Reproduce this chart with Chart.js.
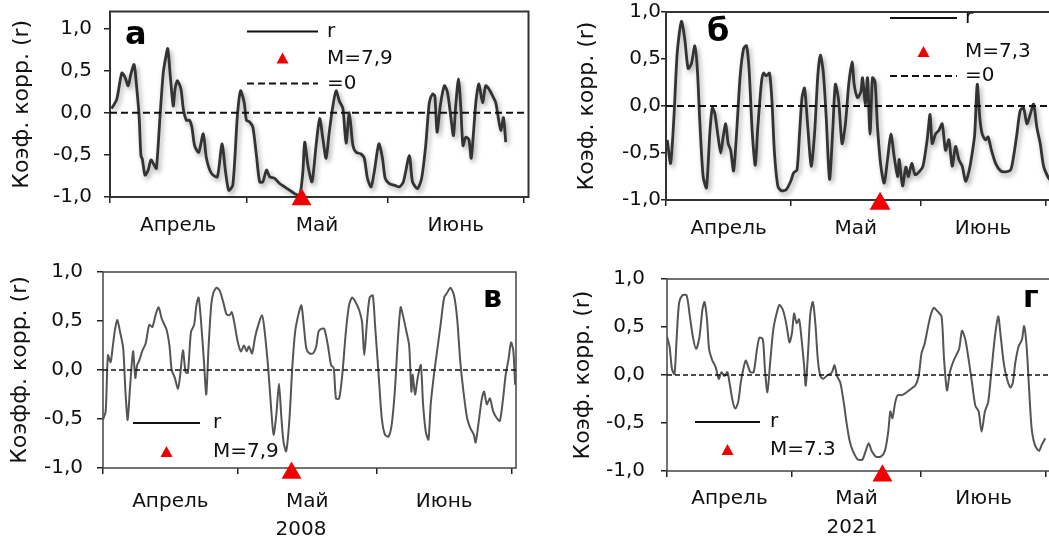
<!DOCTYPE html>
<html>
<head>
<meta charset="utf-8">
<script src="https://cdn.jsdelivr.net/npm/chart.js@4.4.0/dist/chart.umd.min.js"></script>
<style>
  html, body { margin: 0; padding: 0; background: #fff; }
  body { position: relative; width: 1049px; height: 541px; overflow: hidden; }
  canvas { position: absolute; }
</style>
</head>
<body>
<canvas id="pa"></canvas>
<canvas id="pb"></canvas>
<canvas id="pv"></canvas>
<canvas id="pg"></canvas>
<script>
const FONT = '"DejaVu Sans", Verdana, sans-serif';
const RED = '#f00000';
const TEXT = '#111';

// axis ticks (days counted from 1 April)
const yTicks = [-1, -0.5, 0, 0.5, 1];
const monthStarts = [0, 30, 61, 91];
const monthMids = [15, 45.5, 76];
const monthNames = ['Апрель', 'Май', 'Июнь'];

// panel а
const aDays = [0.3,0.7,1.5,2.6,3.3,4.0,4.6,5.3,5.9,6.4,6.8,7.1,7.7,8.4,9.0,9.7,10.2,11.0,11.7,12.2,
  12.7,13.2,13.9,14.3,14.8,15.6,16.1,16.8,17.5,18.0,18.6,19.5,20.5,21.2,22.3,23.6,24.6,25.4,26.1,27.0,
  28.0,28.7,29.5,30.0,30.7,31.4,32.2,32.9,33.6,34.4,35.1,36.2,37.3,38.4,39.5,40.6,41.7,42.4,42.8,43.5,
  44.4,45.3,46.1,46.8,47.5,48.2,49.0,49.7,50.4,51.2,51.9,52.6,53.4,54.1,55.2,55.9,56.6,57.4,58.1,59.1,
  59.9,60.5,61.4,62.5,63.6,64.5,65.8,66.5,67.6,68.5,69.4,70.2,70.9,71.4,71.9,72.6,73.5,74.2,74.9,75.5,
  76.0,76.6,77.1,77.6,78.2,78.9,79.4,80.0,80.5,81.1,81.9,82.6,83.3,84.1,84.8,85.3,85.9,86.5,87.0];
const aR = [0.05,0.08,0.16,0.47,0.42,0.32,0.46,0.57,0.28,-0.04,-0.51,-0.55,-0.74,-0.68,-0.56,-0.62,-0.66,-0.04,0.47,0.64,
  0.76,0.47,0.08,0.28,0.38,0.28,0.05,-0.09,-0.09,-0.17,-0.39,-0.47,-0.25,-0.54,-0.72,-0.76,-0.37,-0.70,-0.92,-0.86,
  -0.04,0.26,0.12,-0.09,-0.11,-0.17,-0.51,-0.82,-0.82,-0.68,-0.76,-0.78,-0.84,-0.88,-0.92,-0.96,-0.98,-0.70,-0.35,-0.62,
  -0.82,-0.39,-0.07,-0.31,-0.54,-0.23,0.08,0.26,0.14,0.05,-0.36,0.0,-0.39,-0.47,-0.49,-0.54,-0.78,-0.88,-0.70,-0.37,
  -0.54,-0.78,-0.84,-0.86,-0.88,-0.82,-0.51,-0.82,-0.90,-0.78,-0.39,0.12,0.22,0.20,-0.23,0.08,0.32,0.24,-0.04,-0.27,
  0.08,0.40,0.08,-0.39,-0.29,-0.32,-0.54,-0.17,0.16,0.34,0.12,0.32,0.28,0.20,0.12,-0.04,-0.21,-0.06,-0.35];

// panel б
const bDays = [0.3,1.1,1.9,2.7,3.7,4.5,5.3,6.1,6.9,7.5,8.1,8.9,9.7,10.5,11.1,11.7,12.5,13.1,13.7,14.3,
  14.9,15.5,16.2,17.0,17.8,18.6,19.3,19.9,20.7,21.4,22.0,22.9,23.4,24.0,24.8,25.4,26.0,26.8,27.6,28.8,
  29.9,30.6,31.4,32.0,32.6,33.2,34.0,34.8,35.6,36.4,37.0,37.7,38.4,39.2,40.0,40.6,41.4,42.2,43.0,43.8,
  44.6,45.1,45.9,46.7,47.1,47.8,48.3,48.9,49.5,50.1,50.7,51.5,52.3,53.1,53.9,54.7,55.5,55.9,56.7,57.5,
  58.1,58.9,59.7,60.7,61.6,62.6,63.3,63.8,64.6,65.4,66.2,67.0,67.8,68.6,69.4,70.2,71.0,71.8,72.6,73.4,
  74.0,74.6,75.2,75.8,76.6,77.2,78.0,79.0,80.2,81.4,82.6,83.3,84.1,84.9,85.7,86.5,87.3,88.1,88.9,89.7,
  90.5,91.5,92.3];
const bR = [-0.36,-0.61,-0.12,0.57,0.90,0.71,0.40,0.45,0.64,0.40,-0.16,-0.75,-0.87,-0.29,-0.02,-0.08,-0.33,-0.50,-0.33,-0.19,
  -0.40,-0.47,-0.69,-0.23,0.33,0.61,0.64,0.40,-0.30,-0.63,-0.23,0.26,0.35,0.32,0.35,0.05,-0.50,-0.85,-0.90,-0.89,
  -0.80,-0.71,-0.68,-0.30,0.09,0.19,-0.23,-0.64,-0.30,0.33,0.54,0.36,-0.12,-0.78,-0.23,0.23,0.05,-0.40,-0.19,0.23,
  0.47,0.23,0.09,0.15,0.30,0.02,0.30,-0.30,0.30,0.26,-0.23,-0.64,-0.82,-0.57,-0.30,-0.54,-0.75,-0.57,-0.85,-0.65,
  -0.75,-0.61,-0.73,-0.70,-0.64,-0.36,-0.09,-0.40,-0.30,-0.26,-0.19,-0.47,-0.36,-0.64,-0.43,-0.57,-0.64,-0.80,-0.70,-0.50,
  -0.30,0.23,-0.12,-0.30,-0.36,-0.33,-0.47,-0.61,-0.69,-0.70,-0.68,-0.54,-0.30,-0.05,-0.02,-0.19,-0.09,0.02,-0.23,-0.40,
  -0.64,-0.75,-0.80];

// panel в (2008)
const vDays = [0,0.6,1.1,1.7,2.2,2.7,3.2,3.8,4.5,5.0,5.5,6.0,6.7,7.2,7.6,8.1,8.8,9.5,10.3,11.0,
  11.7,12.4,13.1,14.1,14.8,15.3,16.0,16.7,17.2,17.8,18.4,18.9,19.6,20.3,20.8,21.3,21.8,22.5,23.0,23.5,
  24.1,24.6,25.3,26.0,26.8,27.5,28.2,28.7,29.3,30.0,30.7,31.4,32.0,32.5,33.2,33.9,34.6,35.4,35.9,36.8,
  37.5,38.0,38.6,39.2,39.7,40.2,40.8,41.5,42.2,
  42.8,43.5,44.2,44.8,45.3,46.0,46.8,47.5,48.0,48.6,49.3,50.1,50.8,51.4,51.9,52.6,53.3,54.1,54.8,55.5,
  56.3,57.0,57.7,58.2,58.8,59.4,60.1,60.6,61.4,62.1,62.8,63.6,64.3,65.0,65.7,66.3,66.8,67.6,68.2,68.7,
  69.0,69.5,70.1,70.8,71.3,71.9,72.5,73.0,73.8,74.5,75.2,76.0,76.7,77.4,78.2,78.9,79.6,80.3,81.1,81.8,
  82.6,83.0,83.6,84.4,84.9,85.5,86.2,86.9,87.7,88.4,89.1,89.7,90.3,90.9,91.4,91.8];
const vR = [-0.51,-0.42,0.15,0.08,0.25,0.42,0.51,0.39,0.22,-0.22,-0.51,-0.19,0.19,-0.08,0.05,0.10,0.20,0.27,0.46,0.44,
  0.56,0.64,0.52,0.42,0.25,0.0,-0.08,-0.19,-0.05,0.20,-0.02,-0.03,0.39,0.46,0.66,0.74,0.52,0.08,-0.25,0.22,
  0.66,0.79,0.84,0.81,0.69,0.57,0.56,0.59,0.47,0.29,0.19,0.25,0.19,0.24,0.17,0.34,0.46,0.56,0.44,0.02,
  -0.42,-0.66,-0.46,-0.14,-0.46,-0.73,-0.83,-0.52,0.05,
  0.39,0.56,0.66,0.42,0.22,0.17,0.17,0.24,0.39,0.42,0.42,0.25,0.05,0.02,-0.29,-0.29,-0.05,0.39,0.66,0.74,
  0.69,0.62,0.49,0.15,0.49,0.74,0.76,0.46,-0.05,-0.49,-0.66,-0.68,-0.56,-0.22,0.32,0.64,0.56,0.39,0.25,-0.22,
  -0.05,-0.25,-0.08,0.05,-0.35,-0.63,-0.71,-0.35,-0.02,0.22,0.46,0.74,0.79,0.84,0.76,0.52,0.08,-0.22,-0.49,-0.59,
  -0.66,-0.74,-0.56,-0.29,-0.22,-0.35,-0.29,-0.42,-0.49,-0.52,-0.30,-0.05,0.10,0.28,0.20,-0.15];

// panel г (2021)
const gDays = [0,0.6,1.2,1.8,2.3,2.9,3.7,4.7,5.4,6.2,7.0,7.8,8.5,9.0,9.6,10.1,10.9,11.7,12.4,13.1,
  13.8,14.5,15.0,15.8,16.4,17.1,17.7,18.3,18.9,19.4,20.0,20.8,21.6,22.2,23.0,23.5,24.1,24.7,25.5,26.3,
  27.0,27.8,28.6,29.4,30.0,30.5,31.1,31.7,32.3,32.9,33.3,33.9,34.4,35.0,35.6,36.2,36.8,37.5,38.3,39.1,
  39.6,40.2,40.8,41.6,42.4,43.1,43.8,44.6,
  45.8,46.9,47.7,48.4,49.1,50.1,51.3,52.3,53.1,53.6,54.1,54.8,55.4,56.4,57.5,58.7,59.6,60.4,61.1,61.8,
  62.5,63.2,64.0,65.0,65.9,66.5,67.2,67.9,68.9,70.1,70.8,71.6,72.4,73.2,74.0,74.8,75.5,76.3,77.1,77.9,
  78.7,79.5,80.0,80.8,81.6,82.4,83.0,83.6,84.4,85.2,85.7,86.3,86.9,87.5,88.3,89.3,89.9,90.8];
const gR = [0.40,0.30,0.06,0.01,0.37,0.75,0.83,0.83,0.64,0.40,0.27,0.40,0.68,0.76,0.58,0.27,0.15,0.08,-0.04,0.03,
  -0.01,0.03,-0.08,-0.28,-0.35,-0.28,-0.08,0.06,0.15,0.10,0.03,0.03,0.27,0.39,0.37,0.06,-0.18,0.10,0.47,0.64,
  0.73,0.68,0.54,0.34,0.44,0.64,0.54,0.58,0.37,0.10,-0.11,0.27,0.64,0.76,0.54,0.16,-0.01,-0.04,-0.01,0.01,
  0.03,0.10,-0.01,-0.08,-0.28,-0.50,-0.68,-0.79,
  -0.88,-0.88,-0.79,-0.71,-0.79,-0.85,-0.85,-0.79,-0.59,-0.38,-0.45,-0.28,-0.21,-0.21,-0.18,-0.14,-0.11,-0.01,0.23,0.32,
  0.47,0.61,0.70,0.66,0.61,0.16,-0.16,0.03,0.16,0.27,0.46,0.37,0.16,-0.08,-0.32,-0.38,-0.59,-0.38,-0.28,0.06,
  0.40,0.61,0.44,0.13,-0.04,-0.13,-0.08,0.13,0.30,0.37,0.51,0.30,-0.14,-0.55,-0.73,-0.79,-0.73,-0.66];

// earthquake markers (а, б, в, г)
const quakeDays = [42.1, 51.3, 42.0, 51.7];
const quakeR = [-1.03, -1.04, -1.05, -1.05];
const magnitudes = ['M=7,9', 'M=7,3', 'M=7,9', 'M=7.3'];

const panelDecor = {
  id: 'panelDecor',
  beforeDatasetsDraw(chart, args, o) {
    const {ctx, chartArea: a} = chart;
    ctx.save();
    ctx.strokeStyle = o.boxColor;
    ctx.lineWidth = o.boxWidth;
    ctx.strokeRect(a.left, a.top, a.right - a.left, a.bottom - a.top);
    ctx.restore();
  },
  beforeDatasetDraw(chart, args) {
    if (chart.data.datasets[args.index].shadow) {
      const ctx = chart.ctx;
      ctx.save();
      ctx.shadowColor = 'rgba(0,0,0,0.35)';
      ctx.shadowBlur = 5;
      ctx.shadowOffsetX = 2;
      ctx.shadowOffsetY = 3;
    }
  },
  afterDatasetDraw(chart, args) {
    if (chart.data.datasets[args.index].shadow) chart.ctx.restore();
  },
  afterDatasetsDraw(chart, args, o) {
    const {ctx, chartArea: a} = chart;
    ctx.save();
    ctx.fillStyle = '#000';
    ctx.font = 'bold ' + o.letter.size + 'px ' + FONT;
    ctx.textBaseline = 'alphabetic';
    ctx.fillText(o.letter.text, a.left + o.letter.x, a.top + o.letter.y);

    const lg = o.legend;
    ctx.font = '20px ' + FONT;
    ctx.textBaseline = 'middle';
    lg.rows.forEach(row => {
      const y = a.top + row.y;
      const x0 = a.left + lg.x;
      if (row.type === 'tri') {
        const cx = x0 + lg.w / 2;
        ctx.fillStyle = RED;
        ctx.beginPath();
        ctx.moveTo(cx, y - 6);
        ctx.lineTo(cx + 6, y + 5);
        ctx.lineTo(cx - 6, y + 5);
        ctx.closePath();
        ctx.fill();
      } else {
        ctx.strokeStyle = '#111';
        ctx.lineWidth = lg.lineW;
        ctx.setLineDash(row.type === 'dash' ? o.dash : []);
        ctx.beginPath();
        ctx.moveTo(x0, y);
        ctx.lineTo(x0 + lg.w, y);
        ctx.stroke();
        ctx.setLineDash([]);
      }
      ctx.fillStyle = TEXT;
      ctx.fillText(row.label, a.left + lg.textX, y);
    });

    if (o.year) {
      ctx.textAlign = 'center';
      ctx.fillStyle = TEXT;
      ctx.fillText(o.year.text, a.left + o.year.x, a.bottom + o.year.y);
    }
    ctx.restore();
  }
};

const panels = [
  { id: 'pa', k: 0, days: aDays, r: aR, xMax: 92, yMax: 1.2, yTitle: 'Коэф. корр. (r)',
    canvas: {x: 9, y: 0, w: 531, h: 250}, area: {left: 110, top: 10, right: 529, bottom: 197},
    yPad: 12, yTick: 6, xPad: 11, lineColor: '#333', lineW: 2.8, shadow: true, zeroW: 2, dash: [7, 4],
    boxW: 2, boxColor: '#333', triR: 11.5,
    letter: {text: 'а', x: 15, y: 32, size: 32},
    legend: {x: 137, w: 71, textX: 217, lineW: 2, rows: [
      {type: 'line', label: 'r', y: 20}, {type: 'tri', label: magnitudes[0], y: 47}, {type: 'dash', label: '=0', y: 72}]} },
  { id: 'pb', k: 1, days: bDays, r: bR, xMax: 93, yMax: 1.0, yTitle: 'Коэф. корр. (r)',
    canvas: {x: 574, y: 0, w: 492, h: 250}, area: {left: 666, top: 9, right: 1055, bottom: 200},
    yPad: 0, yTick: 5, xPad: 11, lineColor: '#333', lineW: 2.8, shadow: true, zeroW: 2, dash: [7, 4],
    boxW: 2, boxColor: '#333', triR: 12,
    letter: {text: 'б', x: 41, y: 29, size: 32},
    legend: {x: 224, w: 67, textX: 299, lineW: 2, rows: [
      {type: 'line', label: 'r', y: 6}, {type: 'tri', label: magnitudes[1], y: 40}, {type: 'dash', label: '=0', y: 64}]} },
  { id: 'pv', k: 2, days: vDays, r: vR, xMax: 92, yMax: 1.0, yTitle: 'Коэфф. корр. (r)',
    canvas: {x: 7, y: 255, w: 523, h: 286}, area: {left: 103, top: 272, right: 516, bottom: 468},
    yPad: 14, yTick: 6, xPad: 16, lineColor: '#555', lineW: 2, shadow: false, zeroW: 1.5, dash: [5, 3],
    boxW: 1.5, boxColor: '#444', triR: 11.5,
    letter: {text: 'в', x: 380, y: 35, size: 30},
    legend: {x: 30, w: 67, textX: 110, lineW: 2, rows: [
      {type: 'line', label: 'r', y: 151}, {type: 'tri', label: magnitudes[2], y: 180}]},
    year: {text: '2008', x: 198, y: 62} },
  { id: 'pg', k: 3, days: gDays, r: gR, xMax: 93, yMax: 1.0, yTitle: 'Коэф. корр. (r)',
    canvas: {x: 570, y: 255, w: 496, h: 286}, area: {left: 667, top: 279, right: 1062, bottom: 471},
    yPad: 16, yTick: 6, xPad: 10, lineColor: '#555', lineW: 2, shadow: false, zeroW: 1.5, dash: [5, 3],
    boxW: 1.5, boxColor: '#444', triR: 11.5,
    letter: {text: 'г', x: 356, y: 28, size: 30},
    legend: {x: 28, w: 65, textX: 103, lineW: 2, rows: [
      {type: 'line', label: 'r', y: 143}, {type: 'tri', label: magnitudes[3], y: 171}]},
    year: {text: '2021', x: 185, y: 57} }
];

const xTickVals = monthStarts.concat(monthMids).sort((a, b) => a - b);

function buildPanel(p) {
  const cv = document.getElementById(p.id);
  cv.width = p.canvas.w;
  cv.height = p.canvas.h;
  cv.style.left = p.canvas.x + 'px';
  cv.style.top = p.canvas.y + 'px';
  const yW = p.area.left - p.canvas.x;
  const xH = p.canvas.y + p.canvas.h - p.area.bottom;
  const series = p.days.map((d, i) => ({x: d, y: p.r[i]}));

  new Chart(cv, {
    type: 'line',
    data: {
      datasets: [
        { label: magnitudes[p.k], data: [{x: quakeDays[p.k], y: quakeR[p.k]}], showLine: false,
          pointStyle: 'triangle', pointRadius: p.triR, backgroundColor: RED, borderColor: RED,
          borderWidth: 0, clip: false },
        { label: '=0', data: [{x: 0, y: 0}, {x: p.xMax, y: 0}], borderColor: '#111',
          borderWidth: p.zeroW, borderDash: p.dash, pointRadius: 0 },
        { label: 'r', data: series, borderColor: p.lineColor, borderWidth: p.lineW,
          pointRadius: 0, tension: 0.25, shadow: p.shadow }
      ]
    },
    options: {
      responsive: false,
      animation: false,
      devicePixelRatio: 1,
      layout: { padding: { left: 0, bottom: 0,
        top: p.area.top - p.canvas.y,
        right: p.canvas.x + p.canvas.w - p.area.right } },
      scales: {
        x: {
          type: 'linear', min: 0, max: p.xMax,
          afterBuildTicks: s => { s.ticks = xTickVals.map(v => ({value: v})); },
          afterFit: s => { s.height = xH; s.paddingLeft = 0; s.paddingRight = 0; },
          border: { display: false },
          grid: { drawOnChartArea: false, drawTicks: true, tickLength: 6, lineWidth: 1.5,
            tickColor: c => (c.tick && monthStarts.includes(c.tick.value)) ? '#222' : 'rgba(0,0,0,0)' },
          ticks: { autoSkip: false, maxRotation: 0, padding: p.xPad, color: TEXT,
            font: { family: FONT, size: 20 },
            callback: v => { const i = monthMids.indexOf(v); return i >= 0 ? monthNames[i] : ''; } }
        },
        y: {
          type: 'linear', min: -1, max: p.yMax,
          afterBuildTicks: s => { s.ticks = yTicks.map(v => ({value: v})); },
          afterFit: s => { s.width = yW; s.paddingTop = 0; s.paddingBottom = 0; },
          border: { display: false },
          grid: { drawOnChartArea: false, drawTicks: true, tickLength: p.yTick, lineWidth: 1.5, tickColor: '#222' },
          ticks: { padding: p.yPad, color: TEXT, font: { family: FONT, size: 20 },
            callback: v => v.toFixed(1).replace('.', ',') },
          title: { display: true, text: p.yTitle, color: TEXT, padding: {top: 0, bottom: 0},
            font: { family: FONT, size: 22 } }
        }
      },
      plugins: {
        legend: { display: false },
        tooltip: { enabled: false },
        panelDecor: { boxColor: p.boxColor, boxWidth: p.boxW, dash: p.dash,
          letter: p.letter, legend: p.legend, year: p.year }
      }
    },
    plugins: [panelDecor]
  });
}

panels.forEach(buildPanel);
</script>
</body>
</html>
